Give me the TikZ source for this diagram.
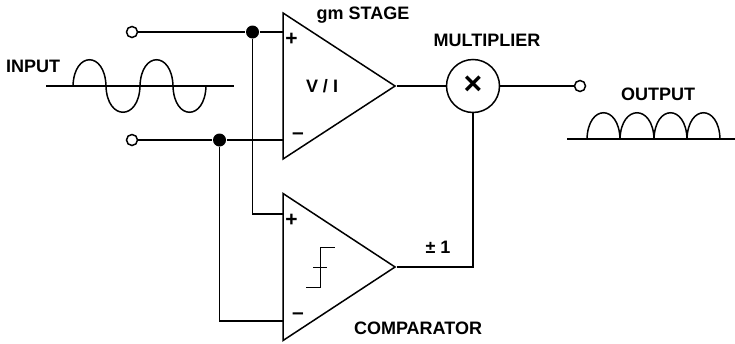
\documentclass[tikz,border=0pt]{standalone}
\usepackage{fontspec}
\setmainfont{Liberation Sans}
\usetikzlibrary{
  positioning,
  shapes.geometric
}

\begin{document}
\begin{tikzpicture}[
  x=1pt, y=-1pt,
  line width=1.5pt,
  amp/.style={
    isosceles triangle, isosceles triangle stretches, draw, inner sep=0pt,
    minimum height=112pt, anchor=apex
  },
  term/.style={circle, draw, fill=white, inner sep=0pt, minimum size=11pt},
  dotnode/.style={circle, fill=black, inner sep=0pt, minimum size=13pt},
  lbl/.style={font=\fontsize{18}{20}\selectfont\bfseries, inner sep=0pt},
  sgn/.style={font=\fontsize{21}{21}\selectfont\bfseries, inner sep=0pt}
]
\useasboundingbox (0,0) rectangle (735,343);

% amplifiers
\node[amp, minimum width=146pt] (gm) at (397,86) {};
\node[amp, minimum width=147pt] (comp) at (397,267) {};
\node[circle, draw, inner sep=0pt, minimum size=53pt] (mult) at (473,86) {};

% terminals and junctions
\node[term] (inp) at (132,32) {};
\node[term] (inn) at (132,140) {};
\node[term] (outp) at (580,86) {};
\node[dotnode] (jp) at (252.5,32) {};
\node[dotnode] (jn) at (219.5,140) {};
\coordinate (gmp) at (283,32);
\coordinate (gmn) at (283,140);
\coordinate (compp) at (283,214);
\coordinate (compn) at (283,321);

% wires
\draw (inp) -- (jp) -- (gmp);
\draw (inn) -- (jn) -- (gmn);
\draw (jp) |- (compp);
\draw (jn) |- (compn);
\draw (gm.apex) -- (mult);
\draw (mult) -- (outp);
\draw (comp.apex) -| (mult);

% waveforms
\draw (46,86) -- (234,86);
\foreach \xa/\xb/\ya in {73/106/51,106/140/121,140/173/51,173/206/121}
  \draw (\xa,86) .. controls (\xa+1,\ya) and (\xb-1,\ya) .. (\xb,86);
\draw (567,139) -- (735,139);
\foreach \xa/\xb in {587/620,620/654,654/687,687/720}
  \draw (\xa,139) .. controls (\xa+1,104) and (\xb-1,104) .. (\xb,139);

% comparator step
\draw[line width=1pt] (306,287) -- (320,287) -- (320,247) -- (335,247);
\draw[line width=1pt] (313,267) -- (327,267);

% labels
\node[lbl] (inputlbl) at (33,66) {INPUT};
\node[lbl] (gmlbl) at (363,15) {gm STAGE};
\node[lbl] (multlbl) at (487,40) {MULTIPLIER};
\node[lbl] (outputlbl) at (658,94) {OUTPUT};
\node[lbl] (vilbl) at (322,86) {V / I};
\node[lbl] (onelbl) at (438,247) {± 1};
\node[lbl] (complbl) at (418,328) {COMPARATOR};
\node[lbl, font=\fontsize{32}{32}\selectfont\bfseries] (xlbl) at (473,85) {×};
\node[sgn] (gmplus) at (291.5,39) {+};
\node[sgn] (gmminus) at (298,136) {–};
\node[sgn] (compplus) at (291.5,220) {+};
\node[sgn] (compminus) at (298,316) {–};

\end{tikzpicture}
\end{document}
